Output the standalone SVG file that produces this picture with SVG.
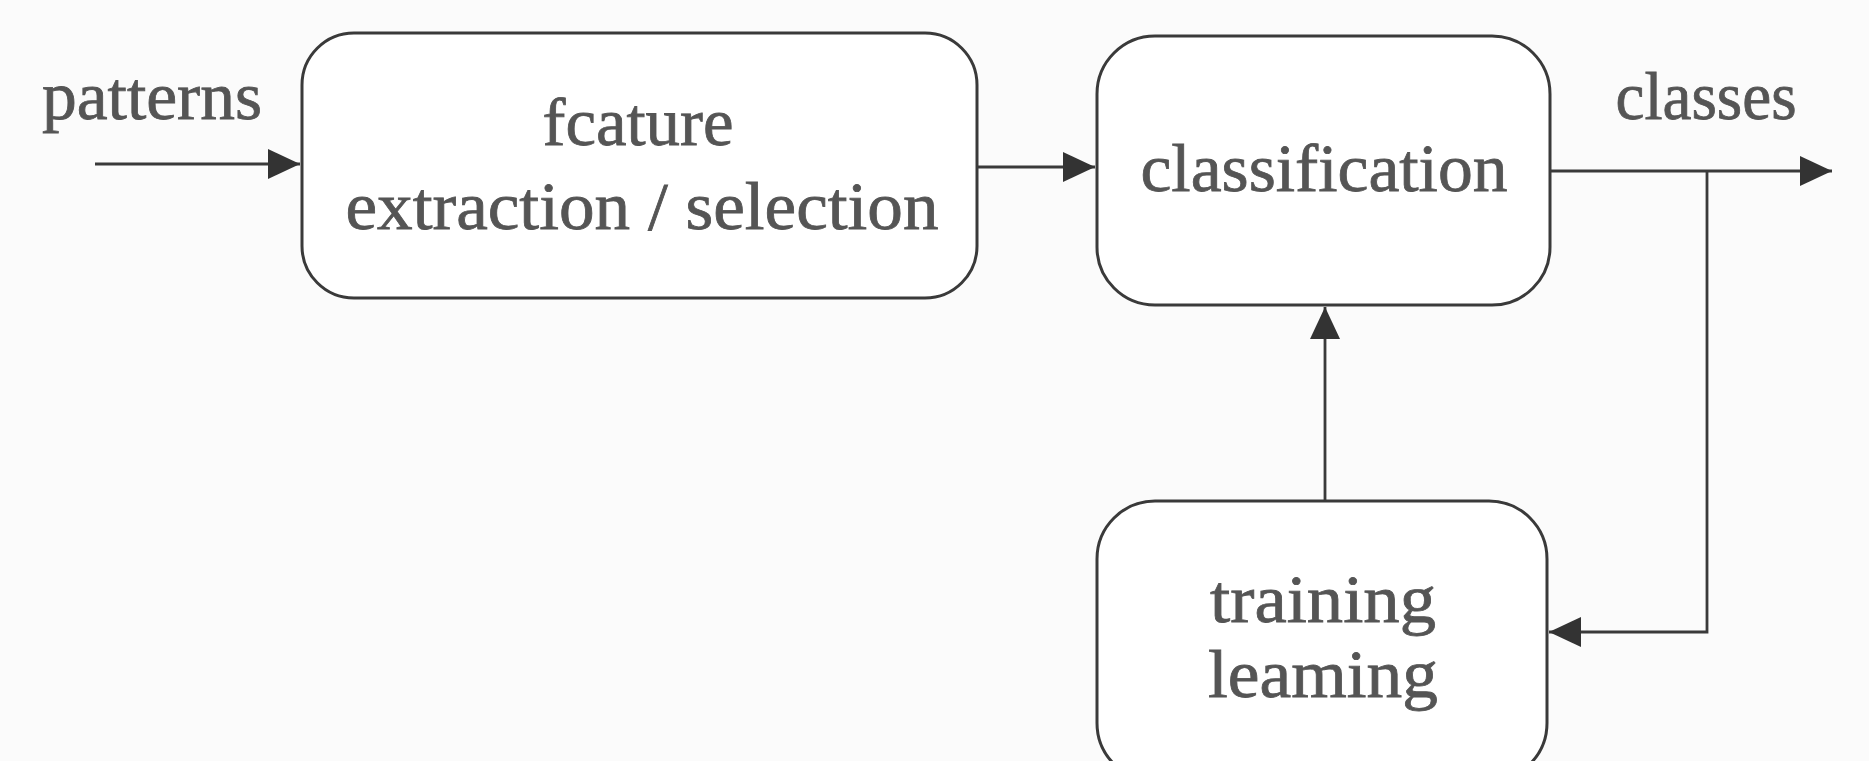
<svg xmlns="http://www.w3.org/2000/svg" width="1869" height="761" viewBox="0 0 1869 761">
<style>
.box{fill:#ffffff;stroke:#3a3a3a;stroke-width:3}
.t{font-family:"Liberation Serif",serif;font-size:68px;fill:#555555;stroke:#555555;stroke-width:0.8;text-anchor:middle}
.c{fill:none;stroke:#3a3a3a;stroke-width:2.8}
</style>
<defs>
<marker id="ahb" viewBox="0 0 10 10" refX="10" refY="5" markerWidth="32" markerHeight="30" markerUnits="userSpaceOnUse" orient="auto" preserveAspectRatio="none">
<path d="M0,0 L10,5 L0,10 z" fill="#333333"/>
</marker>
</defs>
<rect width="1869" height="761" fill="#fbfbfb"/>
<text class="t" x="152" y="119" textLength="220" lengthAdjust="spacingAndGlyphs">patterns</text>
<text class="t" x="1706" y="119" textLength="181" lengthAdjust="spacingAndGlyphs">classes</text>
<g id="feature">
<rect class="box" x="302" y="33" width="675" height="265" rx="52"/>
<text class="t" x="638" y="145" textLength="191" lengthAdjust="spacingAndGlyphs">fcature</text>
<text class="t" x="642" y="229" textLength="593" lengthAdjust="spacingAndGlyphs">extraction / selection</text>
</g>
<g id="classification">
<rect class="box" x="1097" y="36" width="453" height="269" rx="58"/>
<text class="t" x="1324" y="191" textLength="367" lengthAdjust="spacingAndGlyphs">classification</text>
</g>
<g id="training">
<rect class="box" x="1097" y="501" width="450" height="280" rx="58"/>
<text class="t" x="1323" y="622" textLength="226" lengthAdjust="spacingAndGlyphs">training</text>
<text class="t" x="1323" y="697" textLength="230" lengthAdjust="spacingAndGlyphs">leaming</text>
</g>
<g id="connectors">
<path class="c" d="M95,164 H300" marker-end="url(#ahb)"/>
<path class="c" d="M977,167 H1095" marker-end="url(#ahb)"/>
<path class="c" d="M1550,171 H1832" marker-end="url(#ahb)"/>
<path class="c" d="M1707,171 V632 H1549" marker-end="url(#ahb)"/>
<path class="c" d="M1325,501 V307" marker-end="url(#ahb)"/>
</g>
</svg>
